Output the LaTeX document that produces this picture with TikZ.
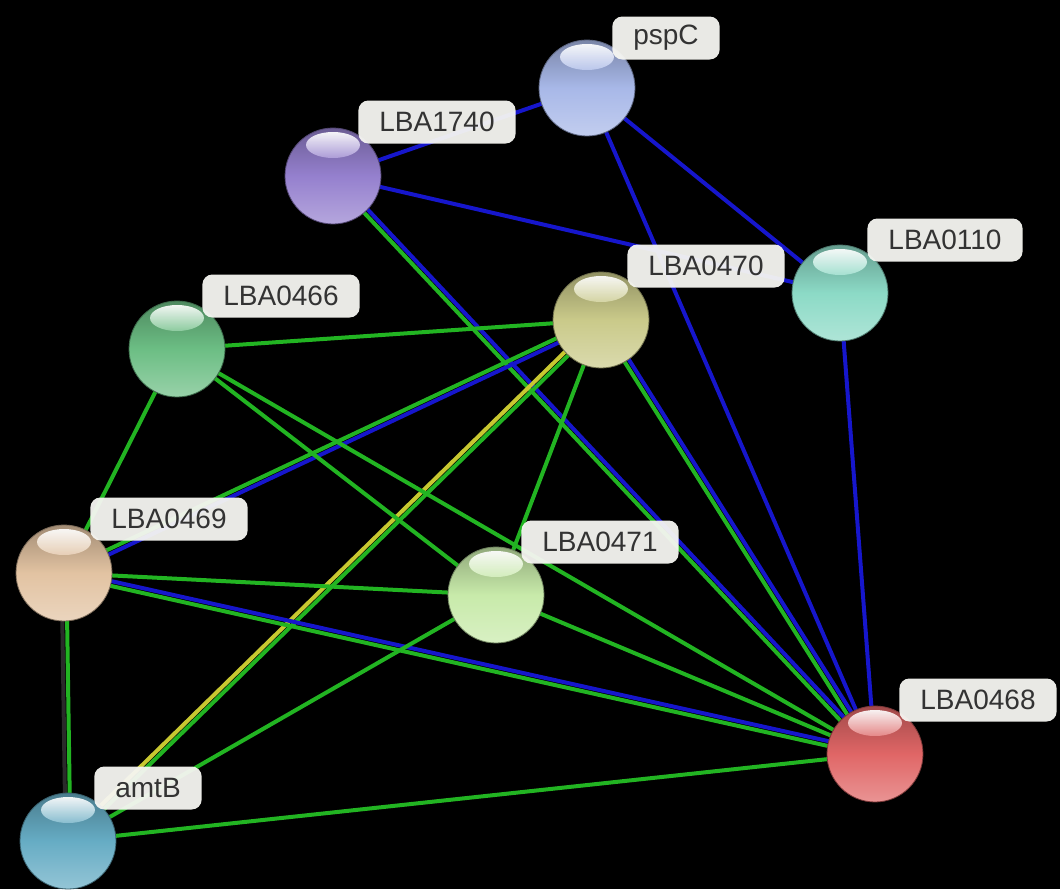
\documentclass[tikz,border=0pt]{standalone}
\usepackage{fontspec}
\setmainfont{Liberation Sans}
\usetikzlibrary{calc}
\pgfdeclarelayer{bg}
\pgfdeclarelayer{edges}
\pgfsetlayers{bg,edges,main}
\definecolor{labelbg}{HTML}{F6F6F2}
\definecolor{eg}{HTML}{22B422}
\definecolor{eb}{HTML}{1616CC}
\definecolor{ey}{HTML}{C8C830}
\definecolor{ek}{HTML}{2A2A2A}
\definecolor{cpsp}{HTML}{A8B8E8}
\definecolor{c1740}{HTML}{9580CE}
\definecolor{c0110}{HTML}{8CDAC6}
\definecolor{c0470}{HTML}{CACA8A}
\definecolor{c0466}{HTML}{6CBE84}
\definecolor{c0469}{HTML}{E2C3A2}
\definecolor{c0471}{HTML}{C8EAAA}
\definecolor{c0468}{HTML}{E06666}
\definecolor{camt}{HTML}{66ACC4}
\tikzset{
  ball/.style={circle, minimum size=96pt, inner sep=0pt, draw=#1!55!black, line width=0.8pt,
    path picture={
      \shade[top color=#1!72!black, bottom color=#1!70!white, middle color=#1]
        (path picture bounding box.south west) rectangle (path picture bounding box.north east);
      \shade[top color=white, bottom color=#1!75!white, fill opacity=0.92]
        ($(path picture bounding box.center)+(0pt,31pt)$) ellipse (27pt and 13pt);
    }},
  lbl/.style={rounded corners=10pt, fill=labelbg, fill opacity=0.95, text opacity=1,
    text=black!80, font=\fontsize{28}{30}\selectfont, inner xsep=21pt, inner ysep=0pt,
    minimum height=43pt},
  edge/.style={line width=4pt, line cap=round},
}
\newcommand\sgl[3]{\draw[edge,#3] (#1.center) -- (#2.center);}
% #3 goes to the left of the direction #1 -> #2 (on screen), #4 to the right
\newcommand\dbl[4]{%
  \draw[edge,#3] ($(#1.center)!2.4pt!90:(#2.center)$) -- ($(#2.center)!2.4pt!-90:(#1.center)$);
  \draw[edge,#4] ($(#1.center)!2.4pt!-90:(#2.center)$) -- ($(#2.center)!2.4pt!90:(#1.center)$);}
\begin{document}
\begin{tikzpicture}[x=1pt,y=-1pt]
\begin{pgfonlayer}{bg}
\fill[black] (0,0) rectangle (1060,889);
\end{pgfonlayer}
\useasboundingbox (0,0) rectangle (1060,889);
% nodes
\node[ball=cpsp] (psp) at (587,88) {};
\node[ball=c1740] (n1740) at (333,176) {};
\node[ball=c0110] (n0110) at (840,293) {};
\node[ball=c0470] (n0470) at (601,320) {};
\node[ball=c0466] (n0466) at (177,349) {};
\node[ball=c0469] (n0469) at (64,573) {};
\node[ball=c0471] (n0471) at (496,595) {};
\node[ball=c0468] (n0468) at (875,754) {};
\node[ball=camt] (amt) at (68,841) {};
% edges
\begin{pgfonlayer}{edges}
\sgl{psp}{n1740}{eb}
\sgl{psp}{n0110}{eb}
\sgl{psp}{n0468}{eb}
\sgl{n1740}{n0110}{eb}
\dbl{n1740}{n0468}{eb}{eg}
\sgl{n0110}{n0468}{eb}
\sgl{n0470}{n0466}{eg}
\dbl{n0470}{n0469}{eb}{eg}
\dbl{n0470}{amt}{eg}{ey}
\sgl{n0470}{n0471}{eg}
\dbl{n0470}{n0468}{eb}{eg}
\sgl{n0466}{n0469}{eg}
\sgl{n0466}{n0471}{eg}
\sgl{n0466}{n0468}{eg}
\sgl{n0469}{n0471}{eg}
\dbl{n0469}{n0468}{eb}{eg}
\dbl{n0469}{amt}{eg}{ek}
\sgl{n0471}{amt}{eg}
\sgl{n0471}{n0468}{eg}
\sgl{amt}{n0468}{eg}
\end{pgfonlayer}
% labels
\node[lbl] (Lpsp) at (666,38) {pspC};
\node[lbl] (L1740) at (437,122) {LBA1740};
\node[lbl] (L0110) at (945,240) {LBA0110};
\node[lbl] (L0470) at (706,266) {LBA0470};
\node[lbl] (L0466) at (281,296) {LBA0466};
\node[lbl] (L0469) at (169,519) {LBA0469};
\node[lbl] (L0471) at (600,542) {LBA0471};
\node[lbl] (L0468) at (978,700) {LBA0468};
\node[lbl] (Lamt) at (148,788) {amtB};
\end{tikzpicture}
\end{document}
